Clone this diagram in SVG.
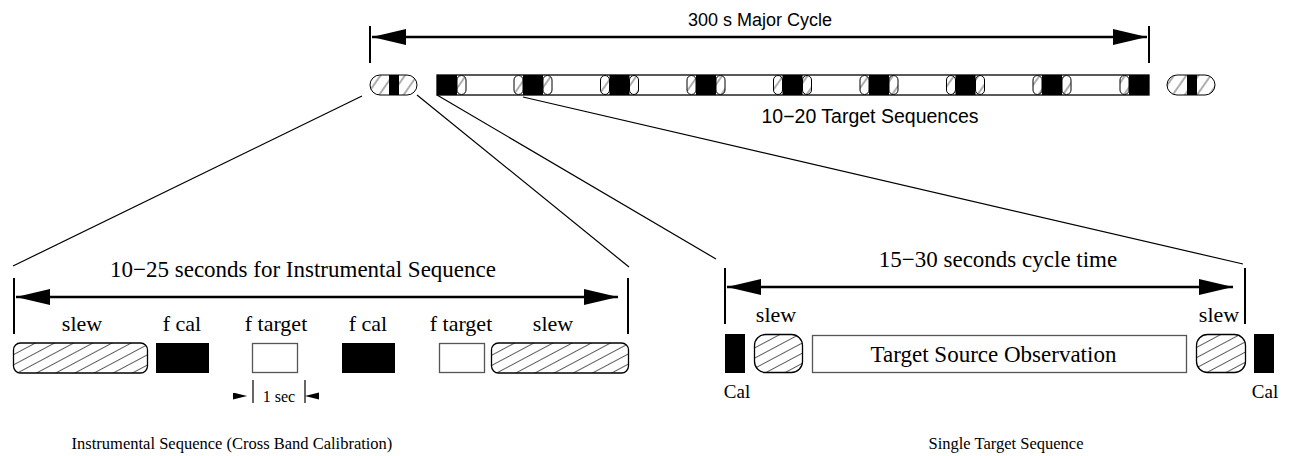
<svg xmlns="http://www.w3.org/2000/svg" width="1296" height="456" viewBox="0 0 1296 456">
<style>
.t{font-family:"Liberation Serif","Times New Roman",serif;fill:#000}
.s{font-family:"Liberation Sans",Arial,sans-serif;fill:#000}
.ln{stroke:#000;stroke-width:1.2;fill:none}
.ar{stroke:#000;stroke-width:2.5;fill:none}
.tick{stroke:#000;stroke-width:2;fill:none}
.blk{fill:#000}
.hs{fill:url(#hatch);stroke:#000;stroke-width:1.3}
.hsm{fill:url(#hatchs);stroke:#000;stroke-width:1}
.wb{fill:#fff;stroke:#555;stroke-width:1.3}
</style>
<defs>
<pattern id="hatch" patternUnits="userSpaceOnUse" width="9" height="9" patternTransform="rotate(-28)">
<rect width="9" height="9" fill="#fff"/>
<line x1="0" y1="4.5" x2="9" y2="4.5" stroke="#333" stroke-width="0.8"/>
</pattern>
<pattern id="hatchs" patternUnits="userSpaceOnUse" width="10" height="10" patternTransform="rotate(-55)">
<rect width="10" height="10" fill="#fff"/>
<line x1="0" y1="5" x2="10" y2="5" stroke="#333" stroke-width="0.8"/>
</pattern>
<marker id="ah" markerUnits="userSpaceOnUse" markerWidth="36" markerHeight="18" refX="34" refY="8" orient="auto-start-reverse">
<path d="M0,0 L34,8 L0,16 Z" fill="#000"/>
</marker>
<marker id="sa" markerUnits="userSpaceOnUse" markerWidth="16" markerHeight="8" refX="14" refY="3.5" orient="auto">
<path d="M0,0 L14,3.5 L0,7 Z" fill="#000"/>
</marker>
</defs>

<g id="connectors">
<line class="ln" x1="362" y1="96" x2="13" y2="266"/>
<line class="ln" x1="417" y1="95" x2="629" y2="267"/>
<line class="ln" x1="437" y1="95" x2="716" y2="259"/>
<line class="ln" x1="523" y1="97" x2="1243" y2="264"/>
</g>

<g id="major-cycle">
<line class="tick" x1="370" y1="26" x2="370" y2="63"/>
<line class="tick" x1="1149" y1="26" x2="1149" y2="63"/>
<line class="ar" x1="372" y1="37" x2="1147" y2="37" marker-start="url(#ah)" marker-end="url(#ah)"/>
<text class="s" x="760" y="26" font-size="18" text-anchor="middle">300 s Major Cycle</text>
</g>

<g id="strip">
<rect class="hsm" x="370" y="75" width="47" height="20" rx="10"/>
<rect class="blk" x="389" y="75" width="10" height="20"/>
<rect x="1167" y="75" width="48" height="20" rx="10" class="hsm"/>
<rect class="blk" x="1187" y="75" width="10" height="20"/>
<rect x="437" y="75" width="712" height="20" fill="#fff" stroke="#000" stroke-width="1.3"/>
<rect class="blk" x="437" y="75" width="20" height="20"/>
<rect class="hsm" x="457" y="75.5" width="9" height="19" rx="4.5"/>
<rect class="hsm" x="514" y="75.5" width="9" height="19" rx="4.5"/>
<rect class="blk" x="523" y="75" width="20" height="20"/>
<rect class="hsm" x="543" y="75.5" width="9" height="19" rx="4.5"/>
<rect class="hsm" x="600.5" y="75.5" width="9" height="19" rx="4.5"/>
<rect class="blk" x="609.5" y="75" width="20" height="20"/>
<rect class="hsm" x="629.5" y="75.5" width="9" height="19" rx="4.5"/>
<rect class="hsm" x="687" y="75.5" width="9" height="19" rx="4.5"/>
<rect class="blk" x="696" y="75" width="20" height="20"/>
<rect class="hsm" x="716" y="75.5" width="9" height="19" rx="4.5"/>
<rect class="hsm" x="773.5" y="75.5" width="9" height="19" rx="4.5"/>
<rect class="blk" x="782.5" y="75" width="20" height="20"/>
<rect class="hsm" x="802.5" y="75.5" width="9" height="19" rx="4.5"/>
<rect class="hsm" x="860" y="75.5" width="9" height="19" rx="4.5"/>
<rect class="blk" x="869" y="75" width="20" height="20"/>
<rect class="hsm" x="889" y="75.5" width="9" height="19" rx="4.5"/>
<rect class="hsm" x="946.5" y="75.5" width="9" height="19" rx="4.5"/>
<rect class="blk" x="955.5" y="75" width="20" height="20"/>
<rect class="hsm" x="975.5" y="75.5" width="9" height="19" rx="4.5"/>
<rect class="hsm" x="1033" y="75.5" width="9" height="19" rx="4.5"/>
<rect class="blk" x="1042" y="75" width="20" height="20"/>
<rect class="hsm" x="1062" y="75.5" width="9" height="19" rx="4.5"/>
<rect class="hsm" x="1120" y="75.5" width="9" height="19" rx="4.5"/>
<rect class="blk" x="1129" y="75" width="20" height="20"/>
<text class="s" x="870" y="123" font-size="19.5" text-anchor="middle">10−20 Target Sequences</text>
</g>

<g id="instrumental">
<line class="tick" x1="14" y1="278" x2="14" y2="334"/>
<line class="tick" x1="628" y1="278" x2="628" y2="334"/>
<line class="ar" x1="16" y1="297" x2="618" y2="297" marker-start="url(#ah)" marker-end="url(#ah)"/>
<text class="t" x="303" y="277" font-size="23" text-anchor="middle">10−25 seconds for Instrumental Sequence</text>
<rect class="hs" x="13.5" y="343" width="134" height="30" rx="7"/>
<text class="t" x="82" y="331" font-size="22" text-anchor="middle">slew</text>
<rect class="blk" x="156" y="343" width="53" height="30"/>
<text class="t" x="182" y="331" font-size="22" text-anchor="middle">f cal</text>
<rect class="wb" x="252.5" y="343.5" width="45" height="29"/>
<text class="t" x="276" y="331" font-size="22" text-anchor="middle">f target</text>
<rect class="blk" x="342" y="343" width="53" height="30"/>
<text class="t" x="368" y="331" font-size="22" text-anchor="middle">f cal</text>
<rect class="wb" x="439.5" y="343.5" width="45" height="29"/>
<text class="t" x="461" y="331" font-size="22" text-anchor="middle">f target</text>
<rect class="hs" x="491.5" y="343" width="137" height="30" rx="7"/>
<text class="t" x="553" y="331" font-size="22" text-anchor="middle">slew</text>
<line class="ln" x1="253" y1="380" x2="253" y2="403"/>
<line class="ln" x1="305" y1="380" x2="305" y2="403"/>
<line x1="232" y1="396" x2="247" y2="396" stroke="#000" stroke-width="0.1" marker-end="url(#sa)"/>
<line x1="320" y1="396" x2="305" y2="396" stroke="#000" stroke-width="0.1" marker-end="url(#sa)"/>
<text class="t" x="279" y="402" font-size="16" text-anchor="middle">1 sec</text>
<text class="t" x="232" y="449" font-size="16.5" text-anchor="middle">Instrumental Sequence (Cross Band Calibration)</text>
</g>

<g id="single-target">
<line class="tick" x1="725" y1="268" x2="725" y2="324"/>
<line class="tick" x1="1245" y1="268" x2="1245" y2="324"/>
<line class="ar" x1="727" y1="287" x2="1233" y2="287" marker-start="url(#ah)" marker-end="url(#ah)"/>
<text class="t" x="998" y="267" font-size="23" text-anchor="middle">15−30 seconds cycle time</text>
<rect class="blk" x="725" y="334" width="20" height="39"/>
<text class="t" x="737" y="398" font-size="19" text-anchor="middle">Cal</text>
<rect class="hs" x="754.5" y="334.5" width="48" height="38" rx="11"/>
<text class="t" x="776" y="322" font-size="22" text-anchor="middle">slew</text>
<rect class="wb" x="812.5" y="335.5" width="374" height="37"/>
<text class="t" x="993.5" y="362" font-size="23" text-anchor="middle">Target Source Observation</text>
<rect class="hs" x="1196.5" y="334.5" width="49" height="38" rx="11"/>
<text class="t" x="1219" y="322" font-size="22" text-anchor="middle">slew</text>
<rect class="blk" x="1254" y="334" width="20" height="39"/>
<text class="t" x="1265" y="398" font-size="19" text-anchor="middle">Cal</text>
<text class="t" x="1006" y="449" font-size="16.5" text-anchor="middle">Single Target Sequence</text>
</g>
</svg>
